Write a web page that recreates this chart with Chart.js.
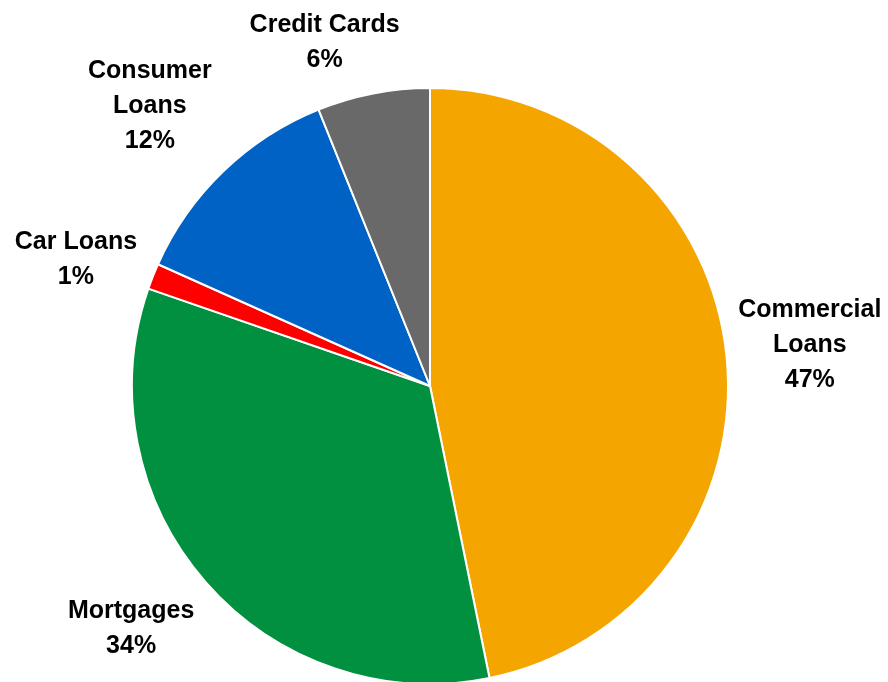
<!DOCTYPE html>
<html>
<head>
<meta charset="utf-8">
<script src="https://cdn.jsdelivr.net/npm/chart.js@4/dist/chart.umd.min.js"></script>
<style>
  html, body { margin: 0; padding: 0; background: #fff; }
  #wrap { width: 888px; height: 682px; position: relative; overflow: hidden; }
</style>
</head>
<body>
<div id="wrap"><canvas id="pie" width="888" height="682"></canvas></div>
<script>
// loan book split (share of total, %)
const categories = [["Commercial", "Loans"], ["Mortgages"], ["Car Loans"], ["Consumer", "Loans"], ["Credit Cards"]];
const shares = [46.8, 33.5, 1.4, 12.2, 6.1];
const sliceColors = ["#F5A500", "#009040", "#FF0000", "#0062C4", "#696969"];

// where each label sits: angle nudge (deg) from the slice middle, distance in radii
const labelPlace = [
    { da: -0.4, k: 1.282 },
    { da: 2.2, k: 1.291 },
    { da: -1.9, k: 1.262 },
    { da: -1.1, k: 1.329 },
    { da: -6.1, k: 1.204 }
];

const outsideLabels = {
    id: "outsideLabels",
    afterDatasetsDraw(chart) {
        const ctx = chart.ctx;
        const meta = chart.getDatasetMeta(0);
        const total = shares.reduce((a, b) => a + b, 0);
        ctx.save();
        ctx.font = "bold 25px 'Liberation Sans', Arial, sans-serif";
        ctx.fillStyle = "#000";
        ctx.textAlign = "center";
        ctx.textBaseline = "middle";
        const lineH = 35;
        meta.data.forEach((arc, i) => {
            const p = arc.getProps(["x", "y", "startAngle", "endAngle", "outerRadius"], true);
            const mid = (p.startAngle + p.endAngle) / 2 + labelPlace[i].da * Math.PI / 180;
            const dist = p.outerRadius * labelPlace[i].k;
            const cx = p.x + Math.cos(mid) * dist;
            const cy = p.y + Math.sin(mid) * dist;
            const lines = categories[i].concat([Math.round(shares[i] / total * 100) + "%"]);
            const top = cy - (lines.length - 1) * lineH / 2;
            lines.forEach((t, j) => ctx.fillText(t, cx, top + j * lineH));
        });
        ctx.restore();
    }
};

const ctx = document.getElementById("pie").getContext("2d");
const chart = new Chart(ctx, {
    type: "pie",
    data: {
        labels: categories.map(l => l.join(" ")),
        datasets: [{
            data: shares,
            backgroundColor: sliceColors,
            borderColor: "#ffffff",
            borderWidth: 2,
            radius: 298,
            clip: false
        }]
    },
    options: {
        responsive: false,
        animation: false,
        layout: { padding: { left: 0, right: 28, top: 90, bottom: 0 } },
        plugins: {
            legend: { display: false },
            tooltip: { enabled: false }
        }
    },
    plugins: [outsideLabels]
});
</script>
</body>
</html>
